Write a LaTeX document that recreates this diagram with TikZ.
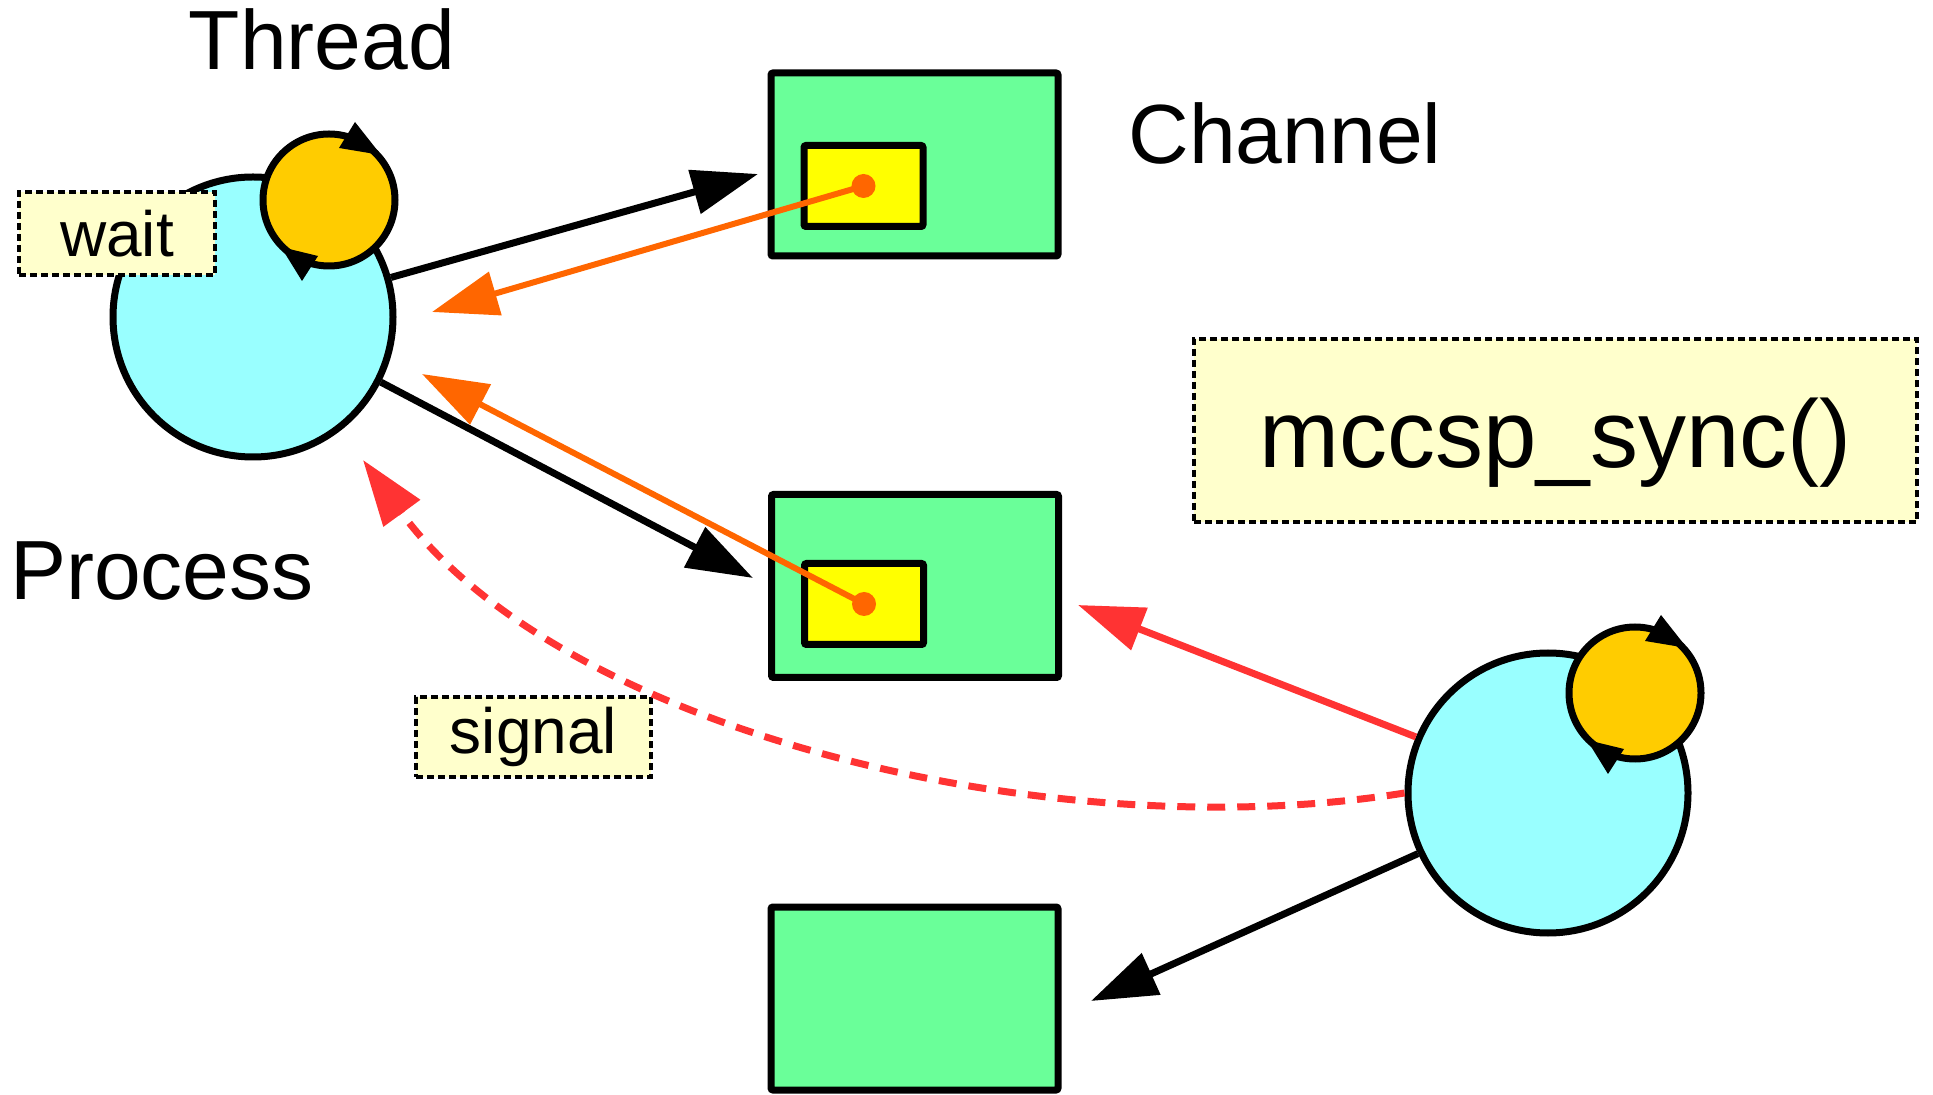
\documentclass[tikz,border=0pt]{standalone}
\usepackage{fontspec}
\setmainfont{Liberation Sans}
\usetikzlibrary{calc,arrows.meta}
\definecolor{processcyan}{HTML}{99FFFF}
\definecolor{threadgold}{HTML}{FFCC00}
\definecolor{channelgreen}{HTML}{6AFF99}
\definecolor{slotyellow}{HTML}{FFFF00}
\definecolor{dataorange}{HTML}{FF6600}
\definecolor{signalred}{HTML}{FF3333}
\definecolor{notefill}{HTML}{FFFFCC}
\tikzset{
	% ---- default
	every path/.style={line width=3.5pt},
	every node/.style={font=\fontsize{42}{50}\selectfont},
	% ---- custom
	process/.style={circle, draw, fill=processcyan, minimum size=140pt, inner sep=0pt},
	thread/.style={circle, draw, fill=threadgold, minimum size=66pt, inner sep=0pt},
	channel/.style={draw, fill=channelgreen, minimum width=143.5pt, minimum height=91.5pt, rounded corners=1pt, inner sep=0pt},
	slot/.style={draw, fill=slotyellow, minimum width=59.5pt, minimum height=40.5pt, rounded corners=1pt, inner sep=0pt},
	note/.style={draw, fill=notefill, line width=2pt, dash pattern=on 3.5pt off 2pt, inner sep=0pt, font=\fontsize{32}{38}\selectfont},
	heading/.style={anchor=base, inner sep=0pt},
	handoff/.style={-{Triangle[length=33pt, width=22pt]}},
	signalling/.style={handoff, signalred, dash pattern=on 9pt off 6pt},
}

\begin{document}
\begin{tikzpicture}[x=0.5pt, y=-0.5pt]

% canvas %{{{2

	\useasboundingbox (0,0) rectangle (1933,1095);

% coordinates %{{{2

	% ---- free ends of the arrows
	\coordinate (tipA) at (758,174);
	\coordinate (tipB) at (432,312);
	\coordinate (tipC) at (422,374);
	\coordinate (tipD) at (753,578);
	\coordinate (tipE) at (1078,605);
	\coordinate (tipF) at (1091,1001);
	\coordinate (tipG) at (363,460);

% processes %{{{2

	\node[process] (procA) at (253,317) {};
	\node[process] (procB) at (1548,793) {};

% threads %{{{3

	\node[thread] (thrA) at (329,200) {};
	\node[thread] (thrB) at (1635,693) {};

	\foreach \t in {thrA,thrB} {
		\fill ($(\t)+(26,-78)$) -- ($(\t)+(10,-52)$) -- ($(\t)+(52,-45)$) -- cycle;
		\fill ($(\t)+(-48,47)$) -- ($(\t)+(-11,56)$) -- ($(\t)+(-27,81)$) -- cycle;
	}

% channels %{{{2

	\node[channel] (chanA) at (914.5,164.5) {};
	\node[channel] (chanB) at (915,586) {};
	\node[channel] (chanC) at (914.5,998.5) {};

	\node[slot] (slotA) at (863.5,186) {};
	\node[slot] (slotB) at (864,604) {};

% headings %{{{2

	\node[heading] (threadtxt) at (322,70) {Thread};
	\node[heading] (channeltxt) at (1285,164) {Channel};
	\node[heading] (processtxt) at (162,600) {Process};

% notes %{{{2

	\node[note, minimum width=98pt, minimum height=41.5pt] (wait) at (117,233.5) {wait};
	\node[note, minimum width=117.5pt, minimum height=40pt] (signal) at (533.5,737) {signal};
	\node[note, minimum width=361.5pt, minimum height=91.5pt, font=\fontsize{48}{56}\selectfont,
		text height=47pt, text depth=10pt] (sync) at (1555.5,430.5) {mccsp\_sync()};

% arrows %{{{2

	\draw[handoff] (procA.16) -- (tipA);
	\draw[handoff] (procA.-27) -- (tipD);
	\draw[handoff] (procB.205) -- (tipF);

	\draw[handoff, signalred] (procB.157) -- (tipE);
	\draw[signalling] (procB.180) .. controls (1050,850) and (560,730) .. (tipG);

% data arrows %{{{3

	\draw[handoff, dataorange, line width=3pt] (slotA.center) -- (tipB);
	\draw[handoff, dataorange, line width=3pt] (slotB.center) -- (tipC);

	\fill[dataorange] (slotA.center) circle (6pt);
	\fill[dataorange] (slotB.center) circle (6pt);

% closing %{{{2

\end{tikzpicture}
\end{document}
